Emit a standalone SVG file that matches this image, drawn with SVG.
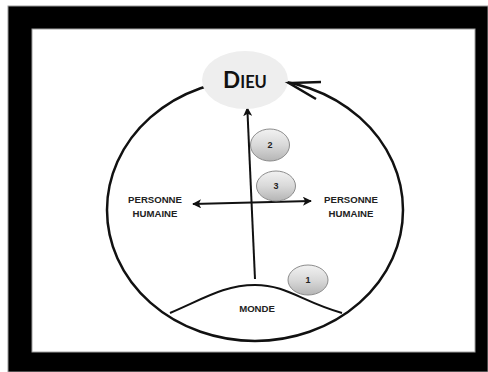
<svg xmlns="http://www.w3.org/2000/svg" width="488" height="372" viewBox="0 0 488 372">
  <defs>
    <linearGradient id="bubbleFill" x1="0" y1="0" x2="0" y2="1">
      <stop offset="0" stop-color="#f2f2f2"/>
      <stop offset="0.5" stop-color="#d9d9d9"/>
      <stop offset="1" stop-color="#b5b5b5"/>
    </linearGradient>
    <marker id="arrowHead" viewBox="0 0 10 10" refX="9" refY="5" markerWidth="4.5" markerHeight="4.5" orient="auto" markerUnits="strokeWidth">
      <path d="M0,0 L10,5 L0,10 L2.5,5 Z" fill="#111"/>
    </marker>
    <marker id="arrowHeadStart" viewBox="0 0 10 10" refX="1" refY="5" markerWidth="4.5" markerHeight="4.5" orient="auto" markerUnits="strokeWidth">
      <path d="M10,0 L0,5 L10,10 L7.5,5 Z" fill="#111"/>
    </marker>
  </defs>
  <style>
    .label { font-family: "Liberation Sans", Arial, sans-serif; font-weight: bold; fill: #222; text-anchor: middle; }
    .small { font-size: 9.6px; }
    .num { font-size: 9px; }
    .bubble { fill: url(#bubbleFill); stroke: #8c8c8c; stroke-width: 1; }
    .link { fill: none; stroke: #111; stroke-width: 2; }
  </style>

  <!-- page frame -->
  <rect x="0" y="0" width="488" height="372" fill="#ffffff"/>
  <rect x="8" y="6" width="480" height="366" fill="#000000" stroke="#9a9a9a" stroke-width="1"/>
  <rect x="32" y="29" width="443" height="323" fill="#ffffff" stroke="#a0a0a0" stroke-width="1"/>

  <g id="connectors">
    <!-- the great circle returning to God -->
    <ellipse cx="255" cy="210" rx="148" ry="131" fill="none" stroke="#111" stroke-width="2.5"/>
    <!-- world to God -->
    <line class="link" x1="255" y1="279" x2="247.3" y2="108" marker-end="url(#arrowHead)"/>
    <!-- between persons -->
    <line class="link" x1="193" y1="204" x2="311" y2="201" marker-start="url(#arrowHeadStart)" marker-end="url(#arrowHead)"/>
  </g>

  <g id="monde">
    <path d="M170,313 C205,298 225,285 255,285 C287,285 302,302 342,313" fill="none" stroke="#111" stroke-width="2"/>
    <text class="label small" x="257" y="312">MONDE</text>
  </g>

  <g id="dieu">
    <ellipse cx="245" cy="80" rx="43" ry="29" fill="#eeeeee"/>
    <text x="245" y="88" text-anchor="middle" font-family="Lato, 'Open Sans', sans-serif" font-weight="bold" fill="#111"><tspan font-size="22.5">D</tspan><tspan font-size="16.5">IEU</tspan></text>
  </g>

  <!-- open arrowhead closing the circle at God -->
  <path id="circleArrow" d="M321,82 L289,83 L316,99" fill="none" stroke="#111" stroke-width="2.5" stroke-linejoin="miter"/>

  <g id="personne-gauche">
    <text class="label small" x="155" y="203">PERSONNE</text>
    <text class="label small" x="155" y="217">HUMAINE</text>
  </g>

  <g id="personne-droite">
    <text class="label small" x="351" y="203">PERSONNE</text>
    <text class="label small" x="351" y="217">HUMAINE</text>
  </g>

  <g id="etape-1">
    <ellipse class="bubble" cx="308" cy="280" rx="20" ry="15"/>
    <text class="label num" x="308" y="283">1</text>
  </g>

  <g id="etape-2">
    <ellipse class="bubble" cx="270" cy="145" rx="19.5" ry="16"/>
    <text class="label num" x="270" y="148">2</text>
  </g>

  <g id="etape-3">
    <ellipse class="bubble" cx="276" cy="186" rx="19.5" ry="15"/>
    <text class="label num" x="276" y="189">3</text>
  </g>
</svg>
